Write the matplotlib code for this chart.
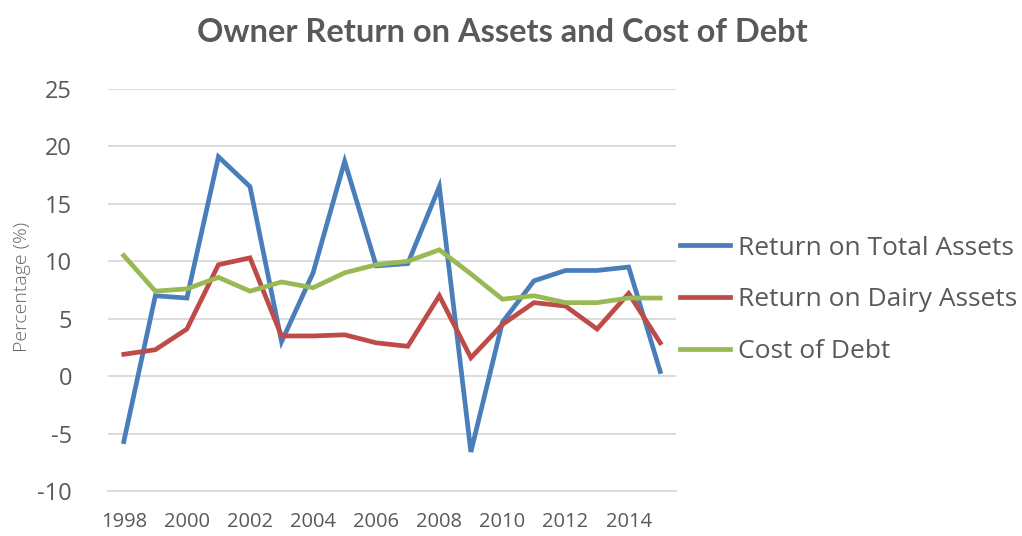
import matplotlib
matplotlib.use("Agg")
import matplotlib.pyplot as plt

plt.rcParams["axes.unicode_minus"] = False

years = list(range(1998, 2016))
total_assets = [-5.7, 7.0, 6.8, 19.1, 16.5, 3.0, 9.0, 18.7, 9.6, 9.8, 16.5, -6.6, 4.7, 8.3, 9.2, 9.2, 9.5, 0.4]
dairy_assets = [1.9, 2.3, 4.1, 9.7, 10.3, 3.5, 3.5, 3.6, 2.9, 2.6, 7.0, 1.6, 4.5, 6.4, 6.1, 4.1, 7.2, 2.9]
cost_of_debt = [10.5, 7.4, 7.6, 8.6, 7.4, 8.2, 7.7, 9.0, 9.7, 10.0, 11.0, 8.9, 6.7, 7.0, 6.4, 6.4, 6.8, 6.8]
series_names = ["Return on Total Assets", "Return on Dairy Assets", "Cost of Debt"]
x_tick_labels = [str(y) for y in range(1998, 2015, 2)]
y_ticks = [-10, -5, 0, 5, 10, 15, 20, 25]

colors = ["#4A7EBB", "#BE4B48", "#98B954"]
text_color = "#595959"

fig = plt.figure(figsize=(10.22, 5.36), dpi=100)
ax = fig.add_axes([108/1022, 1 - 491/536, (676-108)/1022, (491-89)/536])

for vals, name, c in zip([total_assets, dairy_assets, cost_of_debt], series_names, colors):
    ax.plot(years, vals, color=c, lw=3.4, label=name, solid_joinstyle="miter", zorder=3)

ax.set_xlim(1997.5, 2015.5)
ax.set_ylim(-10, 25)
ax.set_yticks(y_ticks)
ax.set_xticks(range(1998, 2015, 2))
ax.set_xticklabels(x_tick_labels)
ax.grid(axis="y", color="#D9D9D9", lw=1.3, zorder=0)
for s in ["top", "right", "left"]:
    ax.spines[s].set_visible(False)
ax.spines["bottom"].set_color("#D9D9D9")
ax.spines["bottom"].set_linewidth(1.3)
ax.tick_params(axis="both", length=0, colors=text_color)
ax.tick_params(axis="y", labelsize=17, pad=26)
ax.tick_params(axis="x", labelsize=14.5, pad=15)
for lab in ax.get_xticklabels() + ax.get_yticklabels():
    lab.set_fontfamily("Open Sans")

fig.text(22/1022, 1 - 287/536, "Percentage (%)", rotation=90, ha="center", va="center",
         fontsize=14, color="#666666", family="Open Sans", fontweight="light")

fig.text(502/1022, 1 - 33/536, "Owner Return on Assets and Cost of Debt", ha="center", va="center",
         fontsize=23.5, fontweight="bold", color=text_color, family="Lato")

leg = ax.legend(loc="center left", bbox_to_anchor=(680/1022, 1 - 300/536), bbox_transform=fig.transFigure,
                frameon=False, prop={"family": "Open Sans", "size": 19}, handlelength=1.9,
                handletextpad=0.3, labelspacing=1.02, borderaxespad=0, borderpad=0)
for t in leg.get_texts():
    t.set_color(text_color)

fig.savefig("out.png", dpi=100)
